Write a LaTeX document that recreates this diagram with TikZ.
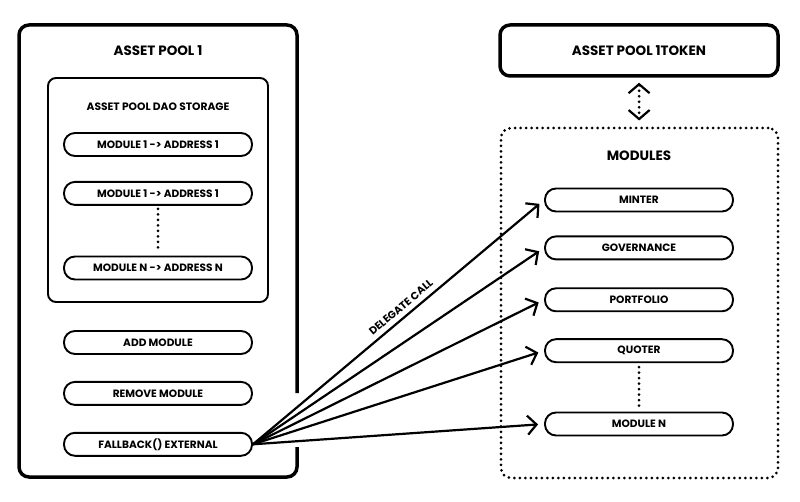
\documentclass[tikz,border=0pt]{standalone}
\usepackage{fontspec}
\setmainfont{Poppins}
\usetikzlibrary{positioning,arrows.meta}

\begin{document}
\begin{tikzpicture}
[x=1pt, y=-1pt, font=\bfseries,
    every node/.style={align=center, inner sep=0pt},
    pill/.style={draw, line width=1.9pt, rounded corners=11pt,
        minimum width=188pt, minimum height=23pt,
        font=\bfseries\fontsize{10.6}{12}\selectfont},
    bigbox/.style={draw, line width=3.5pt, rounded corners=10pt},
    heading/.style={font=\bfseries\fontsize{13.5}{16}\selectfont},
    dots/.style={line width=3pt, line cap=round, dash pattern=on 0pt off 5.5pt},
    barb/.tip={Straight Barb[length=9pt, width=21pt, line width=2.2pt]},
    call/.style={line width=2.2pt, -{Straight Barb[length=9pt, width=19pt, line width=2.2pt]}, shorten >=6pt}
    ]
    \useasboundingbox (0,0) rectangle (800,502);

    % asset pool 1, frame open where the calls leave it
    \draw[line width=3.5pt, rounded corners=10pt]
        (297,447) -- (297,477) -- (19,477) -- (19,25) -- (297,25) -- (297,393);
    \node[heading] (pooltitle) at (158,51) {ASSET POOL 1};

    % dao storage
    \node[draw, line width=1.9pt, rounded corners=8pt,
        minimum width=220pt, minimum height=224pt] (dao) at (158,190) {};
    \node[font=\bfseries\fontsize{10.7}{12}\selectfont] (daotitle) at (158,107)
        {ASSET POOL DAO STORAGE};
    \node[pill] (map1) at (158,144.5) {MODULE 1 -> ADDRESS 1};
    \node[pill, below=24pt of map1] (map2) {MODULE 1 -> ADDRESS 1};
    \node[pill] (mapN) at (158,268) {MODULE N -> ADDRESS N};
    \draw[dots, shorten <=3pt, shorten >=3pt] (map2) -- (mapN);

    \node[pill] (addmod) at (158,342.5) {ADD MODULE};
    \node[pill, below=26pt of addmod] (remmod) {REMOVE MODULE};
    \node[pill, below=26pt of remmod] (fallback) {FALLBACK() EXTERNAL};

    % token
    \node[bigbox, heading, minimum width=278pt, minimum height=51pt] (token)
        at (639,50.5) {ASSET POOL 1TOKEN};

    % modules
    \node[draw, dots, rounded corners=10pt, minimum width=277pt,
        minimum height=350pt] (modbox) at (639.5,303) {};
    \node[heading] (modtitle) at (639,156) {MODULES};
    \node[pill] (minter) at (639,200) {MINTER};
    \node[pill, below=23pt of minter] (gov) {GOVERNANCE};
    \node[pill, below=27pt of gov] (port) {PORTFOLIO};
    \node[pill, below=26pt of port] (quoter) {QUOTER};
    \node[pill] (modN) at (639,424) {MODULE N};
    \draw[dots, shorten <=4pt, shorten >=4pt] (quoter) -- (modN);

    \draw[dots, barb-barb, shorten <=5pt, shorten >=6pt] (token) -- (modbox);

    % delegate calls
    \draw[call] (fallback.east) -- node[sloped, above=5pt, pos=0.53,
        font=\bfseries\fontsize{10.5}{12}\selectfont] {DELEGATE CALL} (minter.west);
    \foreach \m in {gov,port,quoter,modN}
        \draw[call] (fallback.east) -- (\m.west);
\end{tikzpicture}
\end{document}
